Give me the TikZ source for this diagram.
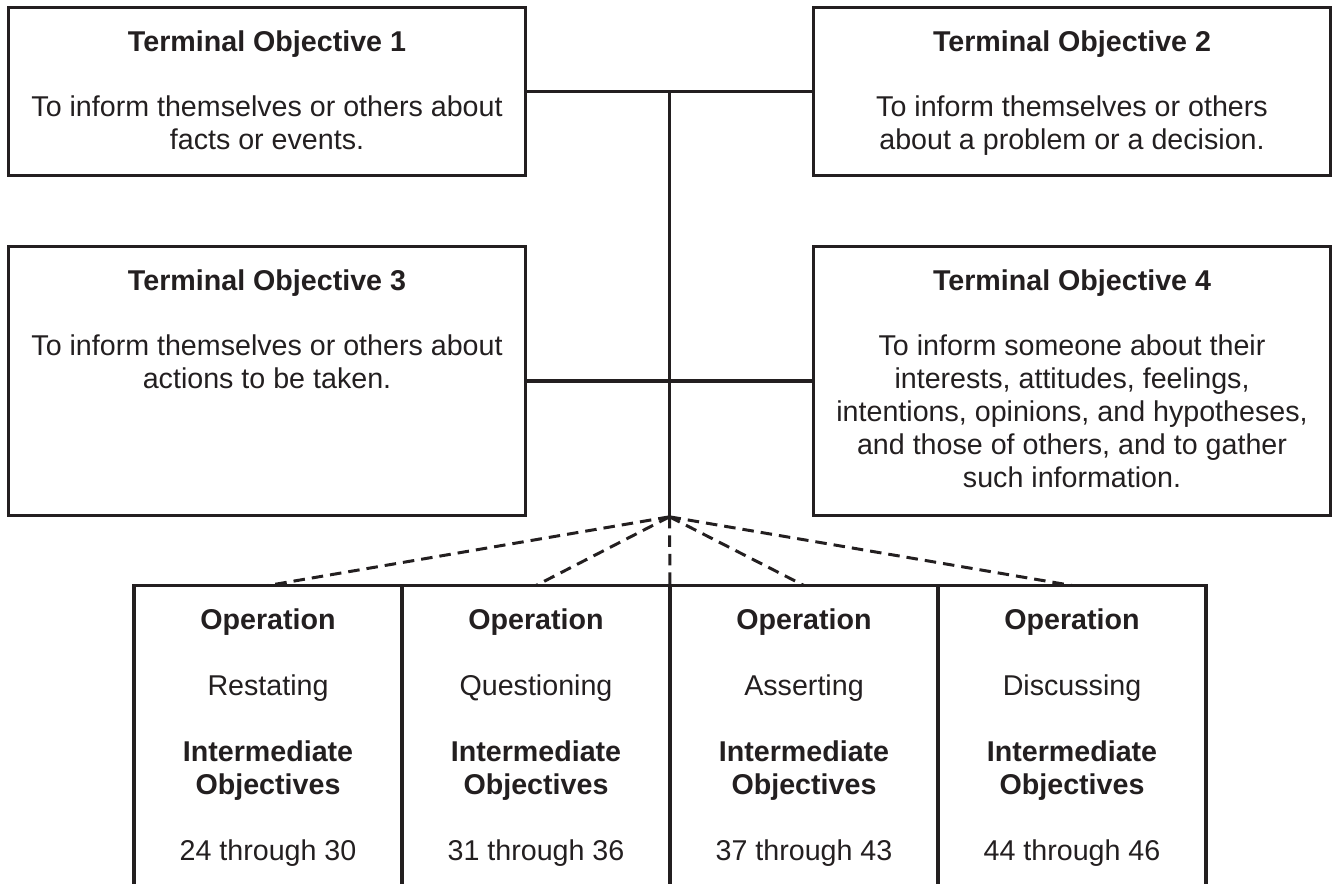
\documentclass[tikz,border=0pt]{standalone}
\usepackage{fontspec}
\setmainfont{Liberation Sans}
\usetikzlibrary{positioning,calc}

\definecolor{ink}{RGB}{35,31,32}

\begin{document}
\begin{tikzpicture}[x=0.02cm,y=-0.02cm,
	tobox/.style={draw=ink,line width=1.8pt,minimum width=10.34cm},
	colbox/.style={minimum width=5.36cm,minimum height=5.98cm,outer sep=0pt,inner sep=0pt},
	txt/.style={align=center,inner sep=0pt,text=ink,font=\fontsize{16.3pt}{18.8pt}\selectfont},
	link/.style={draw=ink,line width=1.8pt},
	fan/.style={draw=ink,line width=1.7pt,dash pattern=on 0.23cm off 0.14cm}]

\useasboundingbox (0,0) rectangle (1334,884);

% TERMINAL OBJECTIVES
\node[tobox,minimum height=3.37cm] (to1) at (267,91.5) {};
\node[tobox,minimum height=3.37cm] (to2) at (1072,91.5) {};
\node[tobox,minimum height=5.37cm] (to3) at (267,381) {};
\node[tobox,minimum height=5.37cm] (to4) at (1072,381) {};

\node[txt,below=0.49cm of to1.north] (to1txt) {\textbf{Terminal Objective 1}\\[0.64cm]
	To inform themselves or others about\\facts or events.};
\node[txt,below=0.49cm of to2.north] (to2txt) {\textbf{Terminal Objective 2}\\[0.64cm]
	To inform themselves or others\\about a problem or a decision.};
\node[txt,below=0.49cm of to3.north] (to3txt) {\textbf{Terminal Objective 3}\\[0.64cm]
	To inform themselves or others about\\actions to be taken.};
\node[txt,below=0.49cm of to4.north] (to4txt) {\textbf{Terminal Objective 4}\\[0.64cm]
	To inform someone about their\\interests, attitudes, feelings,\\
	intentions, opinions, and hypotheses,\\and those of others, and to gather\\
	such information.};

% CONNECTORS
\draw[link] (to1.east) -- (to2.west);
\draw[link] (to3.east) -- (to4.west);
\coordinate (spine) at ($(to1.east)!0.5!(to2.west)$);
\coordinate (hub) at ($(to3.south east)!0.5!(to4.south west)$);
\draw[link] (spine) -- (hub);

% OPERATIONS
\node[colbox,anchor=north] (col1) at (268,585.5) {};
\node[colbox,anchor=north] (col2) at (536,585.5) {};
\node[colbox,anchor=north] (col3) at (804,585.5) {};
\node[colbox,anchor=north] (col4) at (1072,585.5) {};

\draw[link] (col1.south west) -- (col1.north west) -- (col4.north east) -- (col4.south east);
\foreach \c in {col2,col3,col4}
	\draw[link] (\c.north west) -- (\c.south west);

\foreach \c in {col1,col2,col3,col4}
	\draw[fan] (hub) -- (\c.north);
\draw[fan] (hub) -- (col2.north east);

\node[txt,below=0.46cm of col1.north] (op1) {\textbf{Operation}\\[0.66cm]Restating\\[0.66cm]
	\textbf{Intermediate}\\\textbf{Objectives}\\[0.66cm]24 through 30};
\node[txt,below=0.46cm of col2.north] (op2) {\textbf{Operation}\\[0.66cm]Questioning\\[0.66cm]
	\textbf{Intermediate}\\\textbf{Objectives}\\[0.66cm]31 through 36};
\node[txt,below=0.46cm of col3.north] (op3) {\textbf{Operation}\\[0.66cm]Asserting\\[0.66cm]
	\textbf{Intermediate}\\\textbf{Objectives}\\[0.66cm]37 through 43};
\node[txt,below=0.46cm of col4.north] (op4) {\textbf{Operation}\\[0.66cm]Discussing\\[0.66cm]
	\textbf{Intermediate}\\\textbf{Objectives}\\[0.66cm]44 through 46};

\end{tikzpicture}
\end{document}
